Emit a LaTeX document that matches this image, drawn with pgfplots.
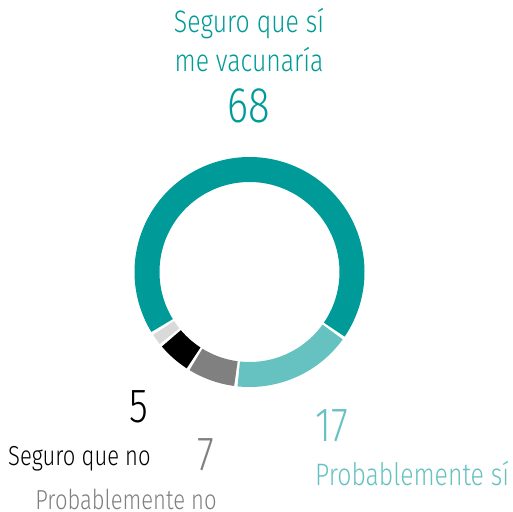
\documentclass[border=0pt]{standalone}
\usepackage{pgfplots}
\pgfplotsset{compat=1.18}
\usepackage{pgfplotstable}
\usepackage{fontspec}
\setmainfont{Fira Sans}[UprightFont=* Light, FakeStretch=0.8]
\definecolor{cTeal}{RGB}{0,155,152}
\definecolor{cLTeal}{RGB}{102,194,192}
\definecolor{cGray}{RGB}{128,128,128}
\definecolor{cLGray}{RGB}{217,217,217}
\newcommand\fs[1]{\fontsize{#1bp}{#1bp}\selectfont}
\pgfplotstableread{
name value
SQS 68
NS 2
SQN 5
PN 7
PS 17
}\donut
\pgfplotstablegetelem{0}{value}\of\donut\edef\vA{\pgfplotsretval}%
\pgfplotstablegetelem{1}{value}\of\donut\edef\vB{\pgfplotsretval}%
\pgfplotstablegetelem{2}{value}\of\donut\edef\vC{\pgfplotsretval}%
\pgfplotstablegetelem{3}{value}\of\donut\edef\vD{\pgfplotsretval}%
\pgfplotstablegetelem{4}{value}\of\donut\edef\vE{\pgfplotsretval}%
\pgfmathsetmacro\tot{\vA+\vB+\vC+\vD+\vE}%
\pgfmathsetmacro\degPer{360/\tot}%
\pgfmathsetmacro\aA{-35}%
\pgfmathsetmacro\aB{\aA+\vA*\degPer}%
\pgfmathsetmacro\aC{\aB+\vB*\degPer}%
\pgfmathsetmacro\aD{\aC+\vC*\degPer}%
\pgfmathsetmacro\aE{\aD+\vD*\degPer}%
\pgfmathsetmacro\aF{\aE+\vE*\degPer}%
\def\g{0.8}%
\pgfmathsetmacro\sA{\aA+\g}\pgfmathsetmacro\eA{\aB-\g}%
\pgfmathsetmacro\sB{\aB+\g}\pgfmathsetmacro\eB{\aC-\g}%
\pgfmathsetmacro\sC{\aC+\g}\pgfmathsetmacro\eC{\aD-\g}%
\pgfmathsetmacro\sD{\aD+\g}\pgfmathsetmacro\eD{\aE-\g}%
\pgfmathsetmacro\sE{\aE+\g}\pgfmathsetmacro\eE{\aF-\g}%
\begin{document}%
\begin{tikzpicture}
\begin{axis}[at={(0,0)},anchor=south west,width=513bp,height=512bp,scale only axis,
  xmin=0,xmax=513,ymin=0,ymax=512,hide axis,clip=false]
\addplot[draw=cTeal, line width=25bp, domain=\sA:\eA, samples=200] ({249.5+102.5*cos(x)},{240+102.5*sin(x)});
\addplot[draw=cLGray, line width=25bp, domain=\sB:\eB, samples=20] ({249.5+102.5*cos(x)},{240+102.5*sin(x)});
\addplot[draw=black, line width=25bp, domain=\sC:\eC, samples=20] ({249.5+102.5*cos(x)},{240+102.5*sin(x)});
\addplot[draw=cGray, line width=25bp, domain=\sD:\eD, samples=30] ({249.5+102.5*cos(x)},{240+102.5*sin(x)});
\addplot[draw=cLTeal, line width=25bp, domain=\sE:\eE, samples=60] ({249.5+102.5*cos(x)},{240+102.5*sin(x)});
\node[anchor=base,text=cTeal,inner sep=0pt] at (axis cs:249,479) {\fs{31}Seguro que sí};
\node[anchor=base,text=cTeal,inner sep=0pt] at (axis cs:249,440) {\fs{31}me vacunaría};
\node[anchor=base,text=cTeal,inner sep=0pt] at (axis cs:249,389) {\fs{50}68};
\node[anchor=base,text=black,inner sep=0pt] at (axis cs:139,89) {\fs{48}5};
\node[anchor=base west,text=black,inner sep=0pt] at (axis cs:8,46) {\fs{27.5}Seguro que no};
\node[anchor=base,text=cGray,inner sep=0pt] at (axis cs:206,41) {\fs{48}7};
\node[anchor=base,text=cGray,inner sep=0pt] at (axis cs:126,3) {\fs{27.5}Probablemente no};
\node[anchor=base west,text=cLTeal,inner sep=0pt] at (axis cs:315,70) {\fs{48}17};
\node[anchor=base west,text=cLTeal,inner sep=0pt] at (axis cs:315,27) {\fs{31}Probablemente sí};
\end{axis}
\pgfresetboundingbox
\path (0,0) rectangle (513bp,512bp);
\end{tikzpicture}%
\end{document}
